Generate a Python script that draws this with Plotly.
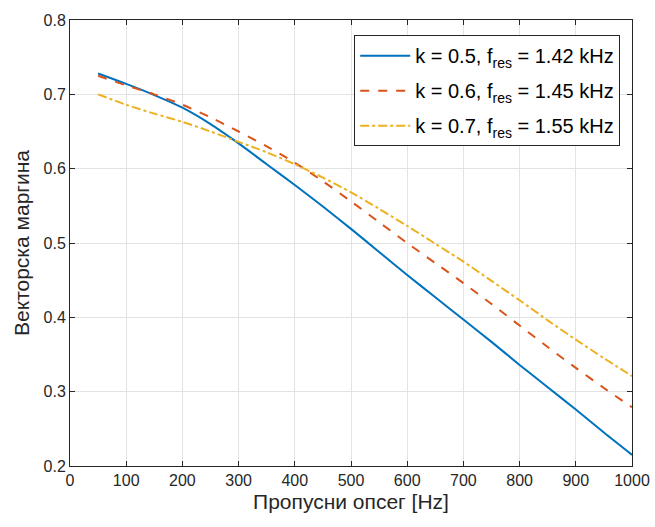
import plotly.graph_objects as go

x_hz = [50, 100, 150, 200, 250, 300, 350, 400, 450, 500, 550, 600, 650, 700, 750, 800, 850, 900, 950, 1000]
k05 = [0.728, 0.714, 0.699, 0.682, 0.660, 0.634, 0.606, 0.578, 0.549, 0.519, 0.488, 0.457, 0.427, 0.397, 0.367, 0.336, 0.306, 0.276, 0.245, 0.215]
k06 = [0.725, 0.712, 0.700, 0.686, 0.669, 0.650, 0.630, 0.608, 0.583, 0.556, 0.528, 0.500, 0.473, 0.446, 0.418, 0.389, 0.360, 0.332, 0.305, 0.279]
k07 = [0.700, 0.686, 0.674, 0.663, 0.650, 0.636, 0.622, 0.606, 0.588, 0.568, 0.546, 0.523, 0.499, 0.475, 0.449, 0.423, 0.396, 0.370, 0.345, 0.321]

names = ["k = 0.5, f<sub>res</sub> = 1.42 kHz",
         "k = 0.6, f<sub>res</sub> = 1.45 kHz",
         "k = 0.7, f<sub>res</sub> = 1.55 kHz"]
colors = ["#0072BD", "#D95319", "#EDB120"]
dashes = ["solid", "dash", "dashdot"]

fig = go.Figure()
for i, (ys, nm, c, d) in enumerate(zip([k05, k06, k07], names, colors, dashes)):
    fig.add_trace(go.Scatter(x=x_hz, y=ys, mode="lines", name=nm, legendgroup=f"g{i}",
                             line=dict(color=c, width=2, dash=d, shape="spline", smoothing=0.8)))

font = "Liberation Sans, Arial, Helvetica, sans-serif"
fig.update_layout(
    width=655, height=527,
    margin=dict(l=70, r=23, t=20, b=61),
    paper_bgcolor="white", plot_bgcolor="white",
    font=dict(family=font, size=16, color="#262626"),
    showlegend=True,
    legend=dict(x=0.979, y=0.966, xanchor="right", yanchor="top",
                bgcolor="white", bordercolor="#262626", borderwidth=1,
                font=dict(size=20, color="#000000"), itemwidth=50,
                tracegroupgap=6),
)
fig.update_xaxes(range=[0, 1000], tickvals=list(range(0, 1001, 100)),
                 showgrid=True, gridcolor="#e3e3e3", gridwidth=1,
                 showline=True, linecolor="#262626", linewidth=1, mirror="ticks",
                 ticks="inside", ticklen=5, tickcolor="#262626",
                 zeroline=False, automargin=False,
                 title=dict(text="Пропусни опсег [Hz]", font=dict(size=21, color="#262626"), standoff=6))
fig.update_yaxes(range=[0.2, 0.8], tickvals=[0.2, 0.3, 0.4, 0.5, 0.6, 0.7, 0.8],
                 ticktext=["0.2", "0.3", "0.4", "0.5", "0.6", "0.7", "0.8"],
                 showgrid=True, gridcolor="#e3e3e3", gridwidth=1,
                 showline=True, linecolor="#262626", linewidth=1, mirror="ticks",
                 ticks="inside", ticklen=5, tickcolor="#262626",
                 zeroline=False, automargin=False,
                 title=dict(text="Векторска маргина", font=dict(size=21, color="#262626"), standoff=8))

fig.write_html("out.html")
